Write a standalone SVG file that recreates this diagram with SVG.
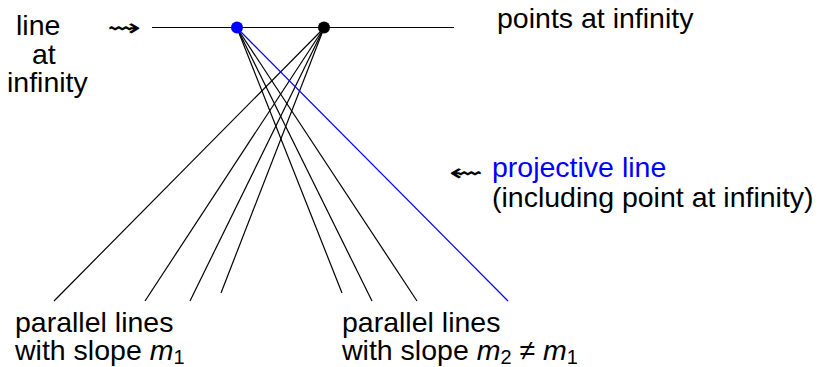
<svg xmlns="http://www.w3.org/2000/svg" width="821" height="367" viewBox="0 0 821 367">
<style>
text{font-family:"Liberation Sans",Arial,sans-serif;font-size:28.5px;fill:#000}
.blue{fill:#0000ff}
.sym{font-family:"DejaVu Sans",sans-serif;font-size:24px}
.it{font-style:italic}
.sub{font-size:20px}
.ln{stroke:#000;stroke-width:1.2;fill:none}
.bl{stroke:#0000ff;stroke-width:1.2;fill:none}
</style>
<rect width="821" height="367" fill="#fff"/>
<g id="connectors">
<line class="ln" x1="152" y1="27.5" x2="454" y2="27.5" stroke-width="1.4"/>
<line class="ln" x1="324" y1="28" x2="54" y2="301"/>
<line class="ln" x1="324" y1="28" x2="145" y2="301"/>
<line class="ln" x1="324" y1="28" x2="190" y2="301"/>
<line class="ln" x1="324" y1="28" x2="221" y2="293"/>
<line class="ln" x1="237" y1="28" x2="342" y2="293"/>
<line class="ln" x1="237" y1="28" x2="372" y2="301"/>
<line class="ln" x1="237" y1="28" x2="417" y2="301"/>
<line class="bl" x1="237" y1="28" x2="508" y2="301"/>
</g>
<g id="point-blue"><circle cx="237" cy="27.5" r="6" fill="#0000ff"/></g>
<g id="point-black"><circle cx="324" cy="27.5" r="6" fill="#000"/></g>
<g id="label-line-at-infinity">
<text x="16" y="35">line</text>
<text x="32" y="64">at</text>
<text x="7" y="92">infinity</text>
<text class="sym" transform="translate(107,36) scale(1.7,1)">⇝</text>
</g>
<g id="label-points"><text x="497" y="28">points at infinity</text></g>
<g id="label-projective">
<text class="sym" transform="translate(449,181) scale(1.7,1)">⇜</text>
<text class="blue" x="492" y="177">projective line</text>
<text x="492" y="207">(including point at infinity)</text>
</g>
<g id="label-m1">
<text x="15" y="332">parallel lines</text>
<text x="15" y="360">with slope <tspan class="it">m</tspan><tspan class="sub" dy="4">1</tspan></text>
</g>
<g id="label-m2">
<text x="342" y="332">parallel lines</text>
<text x="342" y="360">with slope <tspan class="it">m</tspan><tspan class="sub" dy="4">2</tspan><tspan dy="-4"> ≠ </tspan><tspan class="it">m</tspan><tspan class="sub" dy="4">1</tspan></text>
</g>
</svg>
